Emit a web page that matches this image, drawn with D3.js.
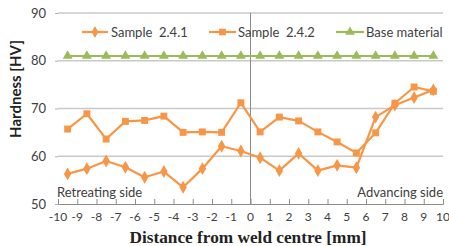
<!DOCTYPE html>
<html><head><meta charset="utf-8">
<script src="https://cdn.jsdelivr.net/npm/d3@7"></script>
<style>body{margin:0;background:#fff}svg{display:block}</style>
</head><body><svg id="c" width="449" height="246"></svg>
<script>
const positions = [-9.5,-8.5,-7.5,-6.5,-5.5,-4.5,-3.5,-2.5,-1.5,-0.5,0.5,1.5,2.5,3.5,4.5,5.5,6.5,7.5,8.5,9.5];
const sample241 = [56.3,57.4,59.0,57.7,55.6,56.8,53.5,57.4,62.1,61.1,59.7,57.0,60.6,57.0,58.1,57.6,68.2,70.7,72.3,73.9];
const sample242 = [65.7,68.9,63.6,67.3,67.5,68.4,65.0,65.1,65.0,71.2,65.1,68.2,67.4,65.1,63.0,60.7,64.9,71.1,74.5,73.6];
const baseMaterial = [81,81,81,81,81,81,81,81,81,81,81,81,81,81,81,81,81,81,81,81];
const xTicks = [-10,-9,-8,-7,-6,-5,-4,-3,-2,-1,0,1,2,3,4,5,6,7,8,9,10];
const yTicks = [50,60,70,80,90];
const seriesNames = ["Sample  2.4.1","Sample  2.4.2","Base material"];

const svg = d3.select("#c");
const x = d3.scaleLinear().domain([-10,10]).range([58,443]);
const y = d3.scaleLinear().domain([50,90]).range([204,13]);
const orange = "#F79646", green = "#9BBB59";
const sans = "Lato, 'Open Sans', sans-serif";

// gridlines
svg.append("g").selectAll("line").data(yTicks.filter(d=>d>50)).join("line")
  .attr("x1",x(-10)).attr("x2",x(10)).attr("y1",d=>y(d)).attr("y2",d=>y(d))
  .attr("stroke","#c9c9c9").attr("stroke-width",1.3);

// vertical axis at 0
svg.append("line").attr("x1",x(0)).attr("x2",x(0)).attr("y1",y(90)).attr("y2",y(50))
  .attr("stroke","#8c8c8c").attr("stroke-width",1);

// x axis
const xa = svg.append("g").attr("transform",`translate(0,${y(50)})`)
  .call(d3.axisTop(x).tickValues(xTicks).tickSize(5).tickFormat(""));
xa.select(".domain").attr("stroke","#8c8c8c");
xa.selectAll(".tick line").attr("stroke","#8c8c8c");
svg.append("g").selectAll("text").data(xTicks).join("text")
  .attr("x",d=>x(d)).attr("y",221).attr("text-anchor","middle")
  .attr("font-family",sans).attr("font-size",12).attr("fill","#404040")
  .text(d=>d);

// y labels
const ya = svg.append("g").attr("transform",`translate(${x(-10)},0)`)
  .call(d3.axisLeft(y).tickValues(yTicks).tickSize(3).tickPadding(9));
ya.select(".domain").remove();
ya.selectAll(".tick line").attr("stroke","#b0b0b0");
ya.selectAll(".tick text").attr("font-family",sans).attr("font-size",13).attr("fill","#404040");

// lines
const line = d3.line().x((d,i)=>x(positions[i])).y(d=>y(d));
function series(vals,color,shape,size){
  svg.append("path").datum(vals).attr("d",line).attr("fill","none")
    .attr("stroke",color).attr("stroke-width",2.2).attr("stroke-linejoin","round");
  svg.append("g").selectAll("path").data(vals).join("path")
    .attr("transform",(d,i)=>`translate(${x(positions[i])},${y(d)})`)
    .attr("d",d3.symbol().type(shape).size(size)).attr("fill",color);
}
series(baseMaterial,green,d3.symbolTriangle,42);
series(sample241,orange,d3.symbolDiamond,48);
series(sample242,orange,d3.symbolSquare,48);

// legend
const leg = [
  {name:seriesNames[0],color:orange,shape:d3.symbolDiamond,size:40,x1:82,x2:108,tx:111},
  {name:seriesNames[1],color:orange,shape:d3.symbolSquare,size:45,x1:209,x2:236,tx:238},
  {name:seriesNames[2],color:green,shape:d3.symbolTriangle,size:40,x1:336,x2:364,tx:366}
];
const lg = svg.append("g").selectAll("g").data(leg).join("g");
lg.append("line").attr("x1",d=>d.x1).attr("x2",d=>d.x2).attr("y1",32).attr("y2",32)
  .attr("stroke",d=>d.color).attr("stroke-width",2.2);
lg.append("path").attr("transform",d=>`translate(${(d.x1+d.x2)/2},32)`)
  .attr("d",d=>d3.symbol().type(d.shape).size(d.size)()).attr("fill",d=>d.color);
lg.append("text").attr("x",d=>d.tx).attr("y",36.5).attr("font-family",sans)
  .attr("font-size",13).attr("fill","#404040").style("white-space","pre").text(d=>d.name);

// annotations
svg.append("text").attr("x",57).attr("y",197).attr("font-family",sans).attr("font-size",13)
  .attr("fill","#404040").text("Retreating side");
svg.append("text").attr("x",443).attr("y",197).attr("text-anchor","end").attr("font-family",sans)
  .attr("font-size",13).attr("fill","#404040").text("Advancing side");

// axis titles
svg.append("text").attr("transform","translate(21,89) rotate(-90)").attr("text-anchor","middle")
  .attr("font-family",sans).attr("font-weight","bold").attr("font-size",15).attr("fill","#222")
  .text("Hardness [HV]");
svg.append("text").attr("x",248).attr("y",243).attr("text-anchor","middle")
  .attr("font-family","'Liberation Serif', serif").attr("font-weight","bold").attr("font-size",16.5)
  .attr("textLength",237).attr("lengthAdjust","spacingAndGlyphs")
  .attr("fill","#222").text("Distance from weld centre [mm]");
</script></body></html>
